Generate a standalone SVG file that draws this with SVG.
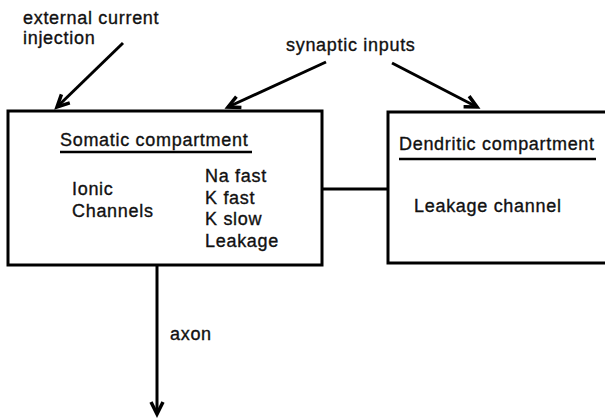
<svg xmlns="http://www.w3.org/2000/svg" width="605" height="419" viewBox="0 0 605 419">
<defs>
<style>
text{font-family:"Liberation Sans",Arial,sans-serif;font-size:18px;letter-spacing:0.7px;fill:#111;stroke:#111;stroke-width:0.35px}
.box{fill:#fff;stroke:#000;stroke-width:3}
.ul{stroke:#000;stroke-width:2.5}
.con{stroke:#000;stroke-width:3;fill:none}
.arr{stroke:#000;stroke-width:3;fill:none;marker-end:url(#ah)}
</style>
<marker id="ah" markerUnits="userSpaceOnUse" markerWidth="20" markerHeight="20" viewBox="-2 -10 20 20" refX="13" refY="0" orient="auto">
<path d="M1,-6 L13,0 L1,6" fill="none" stroke="#000" stroke-width="3.5" stroke-linejoin="miter"/>
</marker>
</defs>
<rect width="605" height="419" fill="#fff"/>
<g id="labels">
<text x="23" y="24">external current</text>
<text x="23" y="44">injection</text>
<text x="286" y="51">synaptic inputs</text>
</g>
<g id="connectors">
<line class="con" x1="322" y1="189" x2="388" y2="189"/>
<line class="arr" x1="123" y1="43" x2="57" y2="107"/>
<line class="arr" x1="326" y1="62" x2="228" y2="107"/>
<line class="arr" x1="392" y1="63" x2="477" y2="107"/>
<line class="arr" x1="157" y1="265" x2="157" y2="414"/>
<text x="170" y="340">axon</text>
</g>
<g id="soma">
<rect class="box" x="8" y="111" width="314" height="154"/>
<text x="60" y="146">Somatic compartment</text>
<line class="ul" x1="60" y1="152" x2="252" y2="152"/>
<text x="72" y="195">Ionic</text>
<text x="72" y="217">Channels</text>
<text x="205" y="182">Na fast</text>
<text x="205" y="203.5">K fast</text>
<text x="205" y="225">K slow</text>
<text x="205" y="246.5">Leakage</text>
</g>
<g id="dendrite">
<rect class="box" x="388" y="112" width="230" height="151"/>
<text x="399" y="150">Dendritic compartment</text>
<line class="ul" x1="399" y1="159" x2="596" y2="159"/>
<text x="414" y="212">Leakage channel</text>
</g>
</svg>
